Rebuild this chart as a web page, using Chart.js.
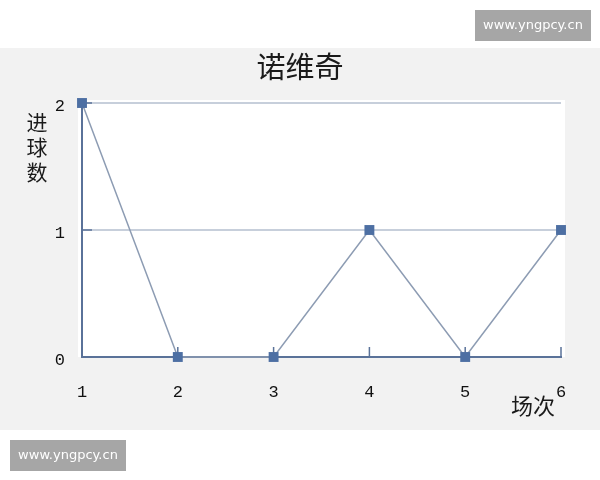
<!DOCTYPE html>
<html>
<head>
<meta charset="utf-8">
<style>
  html, body { margin: 0; padding: 0; background: #ffffff; }
  #wrap { position: relative; width: 600px; height: 480px; }
  canvas { display: block; }
</style>
<script src="https://cdn.jsdelivr.net/npm/chart.js@4.4.1/dist/chart.umd.min.js"></script>
</head>
<body>
<div id="wrap"><canvas id="c" width="600" height="480"></canvas></div>
<script>
// ---- data ----
const chartTitle = '诺维奇';
const categories = ['1', '2', '3', '4', '5', '6'];
const goals = [2, 0, 0, 1, 0, 1];
const yTickValues = [0, 1, 2];
const yAxisTitle = ['进', '球', '数'];
const xAxisTitle = '场次';
const watermark = 'www.yngpcy.cn';

const AXIS = '#5a7299';
const CJK = '"Noto Sans CJK SC", "Noto Sans", sans-serif';
const DIGITS = '"Liberation Mono", "DejaVu Sans Mono", monospace';

const decor = {
  id: 'decor',
  beforeDraw(chart) {
    const { ctx, chartArea: a } = chart;
    ctx.save();
    ctx.fillStyle = '#ffffff';
    ctx.fillRect(0, 0, chart.width, chart.height);
    ctx.fillStyle = '#f2f2f2';
    ctx.fillRect(0, 48, chart.width, 382);
    ctx.fillStyle = '#ffffff';
    ctx.fillRect(a.left - 4, a.top - 3, a.right - a.left + 8, a.bottom - a.top + 3);
    ctx.restore();
  },
  beforeDatasetsDraw(chart) {
    const { ctx, chartArea: a, scales } = chart;
    ctx.save();
    ctx.strokeStyle = AXIS;
    ctx.lineWidth = 1.5;
    const xs = scales.x;
    xs.ticks.forEach((t, i) => {
      const px = xs.getPixelForTick(i);
      ctx.beginPath();
      ctx.moveTo(px, a.bottom);
      ctx.lineTo(px, a.bottom - 10);
      ctx.stroke();
    });
    const ys = scales.y;
    ys.ticks.forEach((t, i) => {
      const py = ys.getPixelForTick(i);
      ctx.beginPath();
      ctx.moveTo(a.left, py);
      ctx.lineTo(a.left + 10, py);
      ctx.stroke();
    });
    ctx.restore();
  },
  afterDraw(chart) {
    const { ctx, chartArea: a } = chart;
    ctx.save();
    ctx.fillStyle = '#1a1a1a';
    ctx.textAlign = 'center';
    ctx.textBaseline = 'middle';
    ctx.font = '21px ' + CJK;
    yAxisTitle.forEach((ch, i) => ctx.fillText(ch, 37, a.top + 19 + i * 25));
    ctx.font = '22px ' + CJK;
    ctx.textAlign = 'right';
    ctx.fillText(xAxisTitle, a.right - 6, a.bottom + 49);
    // watermarks
    ctx.font = '13px "DejaVu Sans", sans-serif';
    ctx.textAlign = 'center';
    [[475, 10], [10, 440]].forEach(([x, y]) => {
      ctx.fillStyle = '#a6a6a6';
      ctx.fillRect(x, y, 116, 31);
      ctx.fillStyle = '#ffffff';
      ctx.fillText(watermark, x + 58, y + 16);
    });
    ctx.restore();
  }
};

new Chart(document.getElementById('c'), {
  type: 'line',
  data: {
    labels: categories,
    datasets: [{
      data: goals,
      borderColor: '#8d9cb3',
      borderWidth: 1.5,
      pointStyle: 'rect',
      pointRadius: 7,
      pointBackgroundColor: '#4d6fa3',
      pointBorderColor: '#4d6fa3',
      pointBorderWidth: 0,
      tension: 0,
      fill: false,
      clip: false
    }]
  },
  options: {
    responsive: false,
    animation: false,
    layout: { padding: { left: 0, right: 0, top: 0, bottom: 0 } },
    plugins: {
      legend: { display: false },
      tooltip: { enabled: false },
      title: {
        display: true,
        text: chartTitle,
        color: '#1a1a1a',
        font: { family: CJK, size: 29, weight: 'normal', lineHeight: 1.2 },
        padding: { top: 49.6, bottom: 18.6 }
      }
    },
    scales: {
      x: {
        type: 'category',
        offset: false,
        grid: { display: false, drawTicks: false },
        border: { display: true, color: AXIS, width: 2 },
        ticks: {
          color: '#111111',
          font: { family: DIGITS, size: 17 },
          padding: 25,
          maxRotation: 0
        },
        afterFit(s) { s.height = 123; }
      },
      y: {
        type: 'linear',
        min: 0,
        max: 2,
        afterBuildTicks(s) { s.ticks = yTickValues.map(v => ({ value: v })); },
        grid: {
          drawTicks: false,
          color: (c) => c.tick && c.tick.value === 0 ? 'rgba(0,0,0,0)' : '#c7cfdb',
          lineWidth: 2
        },
        border: { display: true, color: AXIS, width: 2 },
        ticks: {
          color: '#111111',
          font: { family: DIGITS, size: 17 },
          padding: 17,
          labelOffset: 3
        },
        afterFit(s) { s.width = 82; }
      },
      yR: {
        type: 'linear',
        position: 'right',
        min: 0,
        max: 2,
        grid: { display: false, drawTicks: false },
        border: { display: false },
        ticks: { display: false },
        afterFit(s) { s.width = 39; }
      }
    }
  },
  plugins: [decor]
});
</script>
</body>
</html>
